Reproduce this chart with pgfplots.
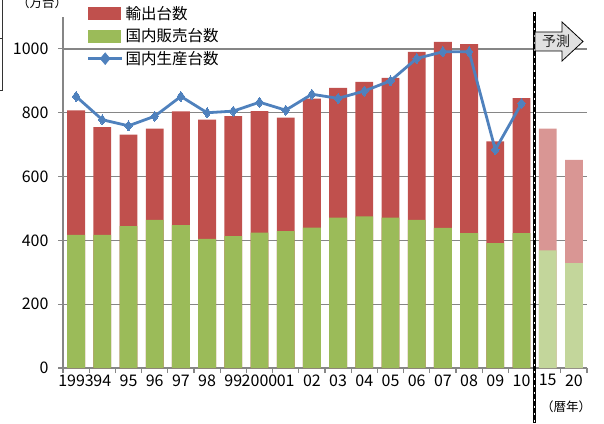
\documentclass[border=0pt]{standalone}
\usepackage{fontspec}
\setmainfont{Noto Sans CJK JP}
\usepackage{pgfplots}
\usepackage{pgfplotstable}
\pgfplotsset{compat=1.18}

\definecolor{expred}{HTML}{C0504D}
\definecolor{domgreen}{HTML}{9BBB59}
\definecolor{prodblue}{HTML}{4F81BD}
\definecolor{expredlt}{HTML}{D99694}
\definecolor{domgreenlt}{HTML}{C3D69B}
\definecolor{gridgray}{HTML}{868686}

% idx: 0 = 1993 ... 17 = 2010 ; dom = 国内販売, exp = 輸出, prod = 国内生産 (万台)
\pgfplotstableread{
idx dom exp prod
0  417 390 851
1  417 338 778
2  445 286 759
3  464 286 789
4  448 356 851
5  405 373 800
6  413 376 805
7  424 381 833
8  429 356 808
9  440 404 858
10 471 407 845
11 475 422 868
12 471 438 900
13 464 527 970
14 439 583 991
15 423 592 991
16 391 319 684
17 423 423 829
}\actual
% forecast: 18 = 2015, 19 = 2020
\pgfplotstableread{
idx dom exp
18 369 381
19 329 323
}\forecast

\begin{document}
\begin{tikzpicture}[x=1pt,y=1pt]
\useasboundingbox (0,0) rectangle (604,423);
\begin{axis}[
  at={(63pt,55pt)}, anchor=south west,
  scale only axis, width=524pt, height=351pt,
  xmin=-0.5, xmax=19.5, ymin=0, ymax=1100,
  axis lines*=left,
  axis line style={gridgray, line width=1.3pt, -},
  ytick={0,200,...,1000},
  ymajorgrids, grid style={gridgray, line width=1.3pt},
  tick align=outside, tick pos=left,
  major tick length=5pt,
  tick style={gridgray, line width=1.1pt},
  xtick={-0.5,0.5,...,19.5}, xticklabels={},
  extra x ticks={0,1,...,19},
  extra x tick labels={1993,94,95,96,97,98,99,2000,01,02,03,04,05,06,07,08,09,10,15,20},
  extra x tick style={major tick length=0pt, grid=none},
  /pgf/number format/assume math mode=true,
  yticklabel style={/pgf/number format/1000 sep={}, xshift=-6pt},
  tick label style={font=\fontsize{16}{18}\selectfont, text=black},
  xticklabel style={yshift=-3pt},
  clip=false,
  legend cell align=left,
  legend style={at={(0.045,1.037)}, anchor=north west, draw=none, fill=none,
    font=\fontsize{15.5}{17}\selectfont, row sep=4pt, inner sep=0pt,
    nodes={inner sep=2pt}},
]
\addlegendimage{legend image code/.code={\fill[expred] (0pt,-6pt) rectangle (32pt,6pt);}}
\addlegendentry{輸出台数}
\addlegendimage{legend image code/.code={\fill[domgreen] (0pt,-6pt) rectangle (32pt,6pt);}}
\addlegendentry{国内販売台数}
\addlegendimage{legend image code/.code={
  \draw[prodblue, line width=2.8pt] (0pt,0pt) -- (34pt,0pt);
  \fill[prodblue] (17pt,-6pt) -- (12pt,0pt) -- (17pt,6pt) -- (22pt,0pt) -- cycle;}}
\addlegendentry{国内生産台数}

% red bars drawn to the stack total, green bars over them
\addplot[ybar, bar width=0.68, bar shift=0pt, fill=expred, draw=none, forget plot]
  table[x=idx, y expr=\thisrow{dom}+\thisrow{exp}] {\actual};
\addplot[ybar, bar width=0.68, bar shift=0pt, fill=domgreen, draw=none, forget plot]
  table[x=idx, y=dom] {\actual};
\addplot[ybar, bar width=0.68, bar shift=0pt, fill=expredlt, draw=none, forget plot]
  table[x=idx, y expr=\thisrow{dom}+\thisrow{exp}] {\forecast};
\addplot[ybar, bar width=0.68, bar shift=0pt, fill=domgreenlt, draw=none, forget plot]
  table[x=idx, y=dom] {\forecast};

\addplot[prodblue, line width=2.8pt, mark=diamond*, mark size=5pt,
  mark options={fill=prodblue, draw=prodblue, line width=0pt}, forget plot]
  table[x=idx, y=prod] {\actual};

% forecast divider
\draw[black, line width=3.5pt] (axis cs:17.5,1116) -- (axis cs:17.5,-172);
\draw[white, line width=1.2pt, dash pattern=on 2pt off 5pt] (axis cs:17.5,1110) -- (axis cs:17.5,-172);
\end{axis}

% 予測 arrow
\draw[black, line width=0.8pt, fill=black!12]
  (535,372) -- (562,372) -- (562,362) -- (583,381.5) -- (562,401) -- (562,391) -- (535,391) -- cycle;
\node[font=\fontsize{14}{15}\selectfont, text=black!85] at (556,381.5) {予測};

\node[anchor=base, font=\fontsize{12.5}{14}\selectfont] at (42,415.5) {（万台）};
\node[font=\fontsize{12.5}{14}\selectfont] at (566,16) {（暦年）};

% cropped frame fragment on the left edge
\draw[black!80, line width=0.8pt] (0,385) -- (2.5,385) (2.5,423) -- (2.5,333) -- (0,333);
\end{tikzpicture}
\end{document}
